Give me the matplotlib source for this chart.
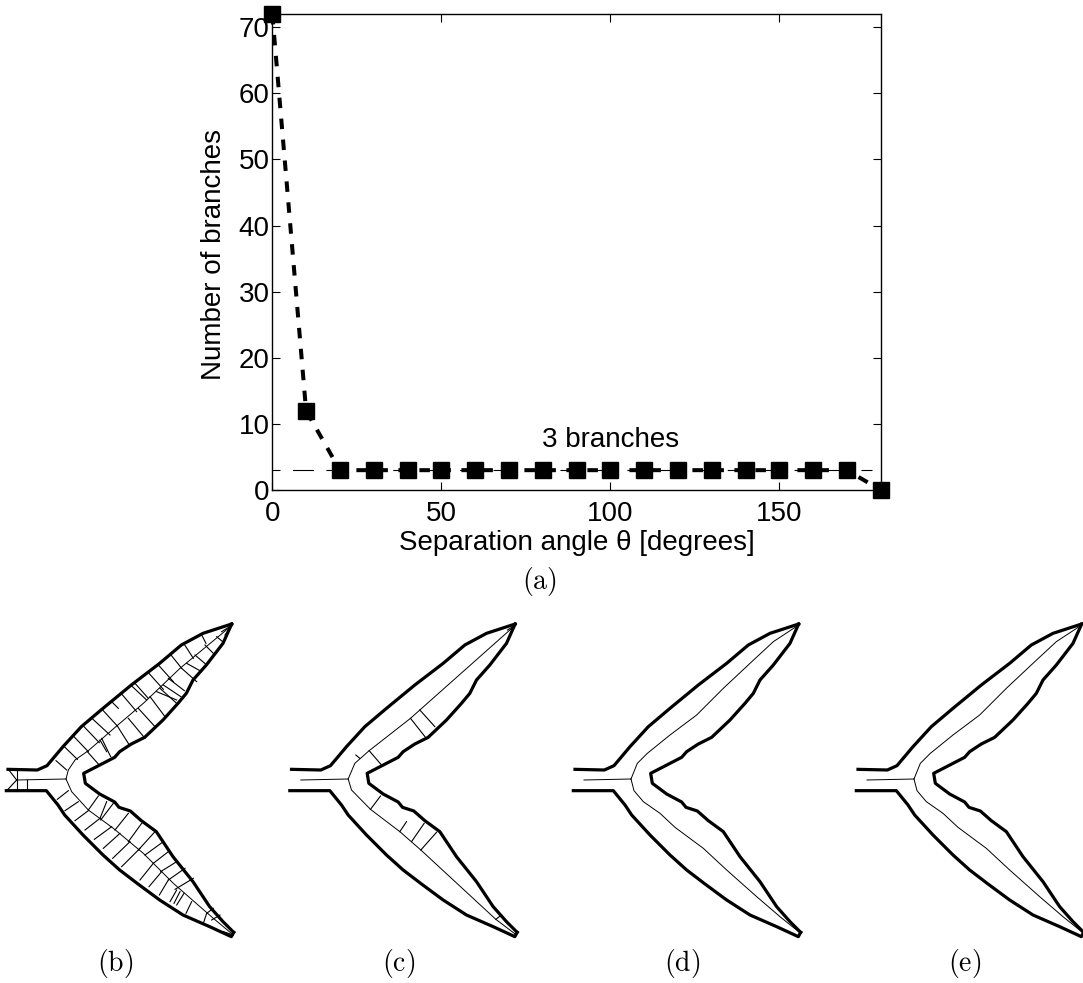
import matplotlib
matplotlib.use('Agg')
import matplotlib.pyplot as plt

plt.rcParams['font.family'] = ['Liberation Sans', 'DejaVu Sans']
plt.rcParams['mathtext.fontset'] = 'cm'

# panel (a)
angle = [0, 10, 20, 30, 40, 50, 60, 70, 80, 90, 100, 110, 120, 130, 140, 150, 160, 170, 180]
branches = [72, 12, 3, 3, 3, 3, 3, 3, 3, 3, 3, 3, 3, 3, 3, 3, 3, 3, 0]
ref_x = [0, 177.3]
ref_y = [3, 3]
xticks = [0, 50, 100, 150]
yticks = [0, 10, 20, 30, 40, 50, 60, 70]

# shape outline, read at 3x zoom
upper_x = [24, 112, 141, 189, 244, 309, 394, 479, 544, 609, 695]
upper_y = [508, 510, 497, 440, 380, 325, 255, 190, 135, 100, 72]
inner_x = [695, 669, 619, 579, 559, 534, 489, 434, 394, 359, 344, 251, 256, 299, 344, 357, 391, 424, 469, 519, 579, 629, 669, 701]
inner_y = [72, 130, 195, 240, 280, 310, 360, 412, 432, 455, 472, 520, 550, 582, 606, 622, 633, 662, 695, 770, 845, 920, 965, 997]
lower_x = [701, 694, 629, 549, 479, 414, 359, 309, 249, 194, 174, 139, 19]
lower_y = [997, 1010, 980, 945, 900, 852, 810, 765, 705, 645, 615, 572, 572]

# centre lines: (stem x, stem y, top x, top y, bottom x, bottom y)
line_b = ([50, 198], [540, 537],
          [198, 205, 225, 265, 350, 430, 540, 697], [537, 510, 480, 452, 378, 310, 205, 75],
          [198, 215, 265, 340, 430, 520, 640, 700], [537, 575, 630, 685, 760, 850, 955, 1005])
line_c = ([52, 194], [540, 537],
          [194, 214, 257, 381, 409, 696], [537, 490, 452, 355, 330, 75],
          [194, 204, 261, 349, 412, 637, 699], [537, 570, 628, 695, 750, 958, 1005])
line_d = ([51, 192], [540, 537],
          [192, 211, 241, 309, 389, 469, 549, 619, 695], [537, 490, 460, 405, 345, 265, 190, 125, 75],
          [192, 201, 229, 279, 324, 409, 479, 569, 639, 701], [537, 572, 605, 640, 682, 745, 810, 890, 950, 1000])

ribs_b = [
    (168, 482, 200, 510), (193, 440, 232, 478), (222, 410, 265, 455), (252, 380, 298, 428),
    (278, 357, 330, 405), (308, 330, 352, 378), (335, 305, 355, 325), (365, 282, 410, 335),
    (392, 255, 440, 300), (405, 250, 445, 295), (445, 218, 490, 268), (475, 195, 520, 245),
    (513, 165, 545, 205), (553, 133, 580, 175), (605, 105, 618, 130),
    (262, 455, 295, 492), (305, 415, 332, 470), (300, 420, 320, 455), (352, 378, 388, 435),
    (385, 355, 435, 415), (415, 325, 465, 380), (450, 290, 495, 350), (480, 265, 530, 310),
    (470, 275, 530, 300), (490, 255, 550, 295), (505, 235, 553, 272), (545, 205, 590, 245),
    (560, 190, 605, 215), (585, 165, 620, 195), (615, 135, 640, 160), (650, 110, 668, 125),
    (205, 572, 172, 598), (235, 605, 195, 632), (265, 632, 225, 662), (300, 655, 255, 690),
    (335, 680, 283, 718), (360, 700, 310, 745), (390, 725, 338, 775), (420, 745, 365, 800),
    (460, 790, 420, 840), (485, 815, 447, 860), (505, 840, 478, 885), (530, 870, 510, 905),
    (540, 875, 522, 910), (552, 880, 530, 915), (575, 905, 558, 940), (620, 940, 610, 970),
    (295, 588, 265, 630), (320, 605, 300, 655), (340, 610, 302, 660), (385, 640, 345, 690),
    (425, 670, 385, 725), (465, 695, 415, 750), (490, 725, 435, 765), (505, 755, 460, 790),
    (530, 785, 482, 815), (555, 805, 505, 840), (580, 835, 525, 868), (640, 925, 620, 940),
    (660, 945, 635, 960), (52, 510, 52, 572), (80, 540, 80, 572), (28, 512, 50, 540),
    (50, 540, 22, 570), (697, 75, 665, 95), (697, 75, 675, 105), (700, 1005, 670, 995),
]
ribs_c = [
    (409, 330, 454, 380), (381, 355, 426, 412), (257, 452, 294, 495), (217, 465, 229, 475),
    (291, 588, 261, 628), (369, 665, 349, 695), (422, 670, 384, 725), (459, 697, 412, 750),
    (654, 945, 637, 958), (696, 75, 672, 90),
]

panels = [
    ('(b)', 0, ribs_b, line_b),
    ('(c)', 283.5, ribs_c, line_c),
    ('(d)', 567, [], line_d),
    ('(e)', 850, [], line_d),
]

fig = plt.figure(figsize=(10.83, 9.83), dpi=100)

ax = fig.add_axes([272.3 / 1083, 1 - 490 / 983, 608.4 / 1083, 476 / 983])
ax.plot(angle, branches, color='black', lw=2.9, ls=(0, (2.607, 2.607)), marker='s', ms=12.2,
        clip_on=False, zorder=3)
ax.plot(ref_x, ref_y, color='black', lw=0.8, ls=(11.7, (18.9, 11.2)), zorder=2)
ax.set_xlim(0, 180)
ax.set_ylim(0, 72)
ax.set_xticks(xticks)
ax.set_yticks(yticks)
ax.tick_params(direction='in', top=True, right=True, length=6, width=0.8, labelsize=20)
ax.tick_params(axis='x', pad=8)
ax.tick_params(axis='y', pad=2)
for s in ax.spines.values():
    s.set_linewidth(1.0)
ax.set_xlabel('Separation angle θ [degrees]', fontsize=20)
ax.set_ylabel('Number of branches', fontsize=20)
ax.xaxis.set_label_coords(0.5008, -0.084)
ax.yaxis.set_label_coords(-0.074, 0.494)
ax.text(100, 7.5, '3 branches', fontsize=20, ha='center', va='center')
fig.text(539 / 1083, 1 - 582 / 983, r'$\mathrm{(a)}$', fontsize=20, ha='center', va='center')

# pixel axes for the four shapes below
sk = fig.add_axes([0, 0, 1, 1], facecolor='none')
sk.set_xlim(0, 1083)
sk.set_ylim(983, 0)
sk.axis('off')


def zx(vals, off):
    return [v / 3 + off for v in vals]


def zy(vals):
    return [v / 3 + 600 for v in vals]


for name, off, ribs, line in panels:
    for xs, ys in [(upper_x, upper_y), (inner_x, inner_y), (lower_x, lower_y)]:
        sk.plot(zx(xs, off), zy(ys), color='black', lw=2.3, solid_joinstyle='round')
    for i in [0, 2, 4]:
        sk.plot(zx(line[i], off), zy(line[i + 1]), color='black', lw=0.7)
    for x0, y0, x1, y1 in ribs:
        sk.plot(zx([x0, x1], off), zy([y0, y1]), color='black', lw=0.8)
    sk.text(115 + off, 964, '$\\mathrm{' + name + '}$', fontsize=20, ha='center', va='center')

fig.savefig('out.png', dpi=100)
